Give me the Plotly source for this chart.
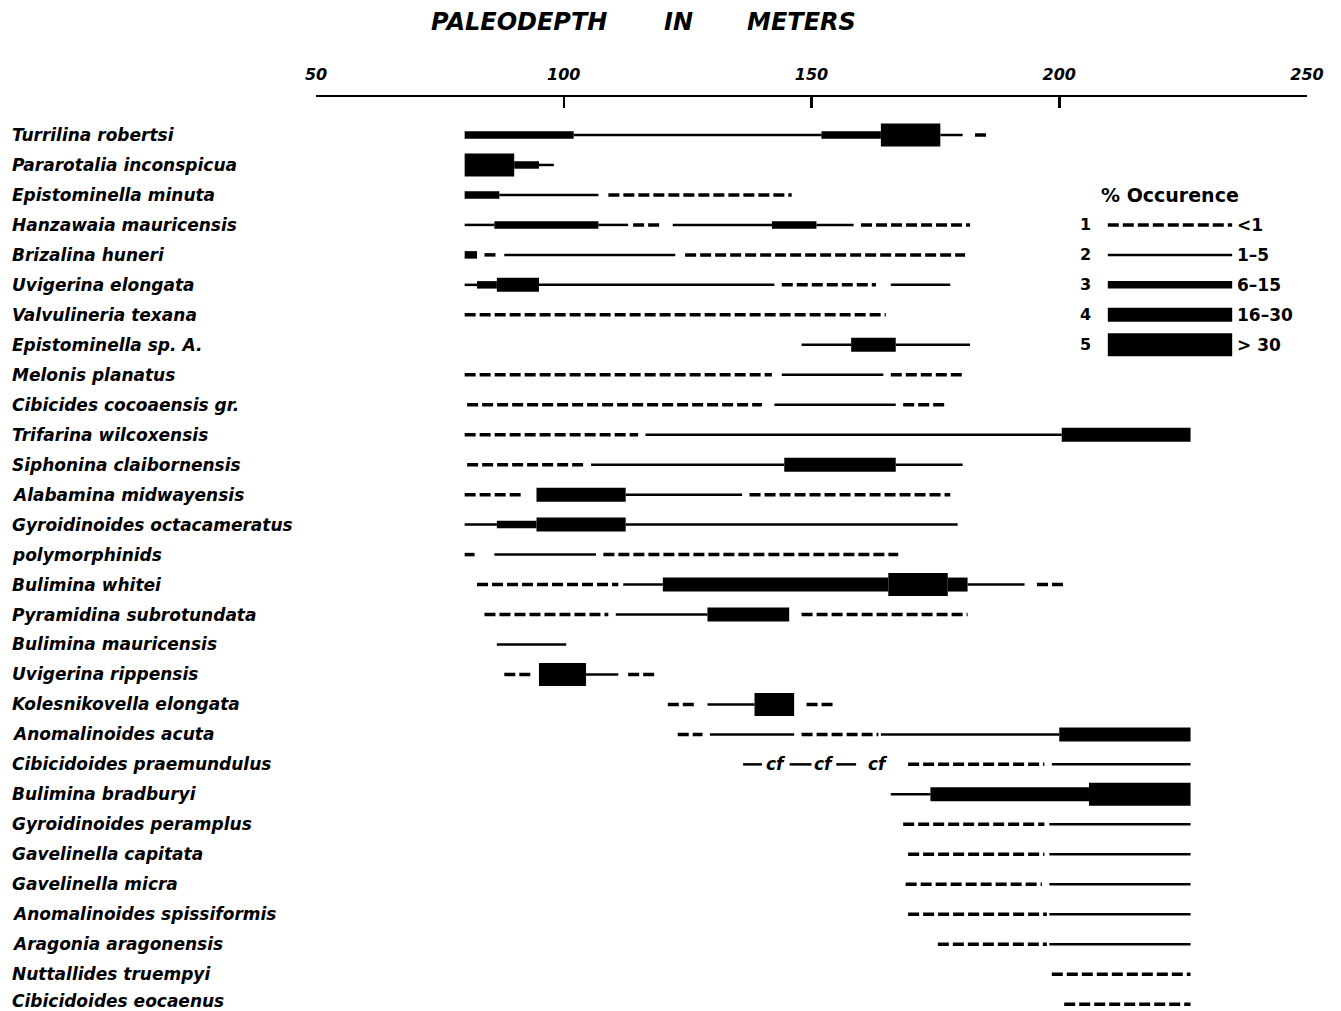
import plotly.graph_objects as go

# ---------------- data ----------------
species = [
    "Turrilina robertsi", "Pararotalia inconspicua", "Epistominella minuta",
    "Hanzawaia mauricensis", "Brizalina huneri", "Uvigerina elongata",
    "Valvulineria texana", "Epistominella sp. A.", "Melonis planatus",
    "Cibicides cocoaensis gr.", "Trifarina wilcoxensis", "Siphonina claibornensis",
    "Alabamina midwayensis", "Gyroidinoides octacameratus", "polymorphinids",
    "Bulimina whitei", "Pyramidina subrotundata", "Bulimina mauricensis",
    "Uvigerina rippensis", "Kolesnikovella elongata", "Anomalinoides acuta",
    "Cibicidoides praemundulus", "Bulimina bradburyi", "Gyroidinoides peramplus",
    "Gavelinella capitata", "Gavelinella micra", "Anomalinoides spissiformis",
    "Aragonia aragonensis", "Nuttallides truempyi", "Cibicidoides eocaenus",
]

# depth ranges (m) per species: start, end and occurrence class (1..5)
seg_start = [
    [80, 102, 152, 164, 176, 183],
    [80, 90, 95],
    [80, 87, 109],
    [80, 86, 107, 114, 122, 142, 151, 160],
    [80, 84, 88, 124.5],
    [80, 82.5, 86.5, 95, 144, 166],
    [80],
    [148, 158, 167],
    [80, 144, 166],
    [80.5, 142.5, 168.5],
    [80, 116.5, 200.5],
    [80.5, 105.5, 144.5, 167],
    [80, 94.5, 112.5, 137.5],
    [80, 86.5, 94.5, 112.5],
    [80, 86, 108],
    [82.5, 112, 120, 165.5, 177.5, 181.5, 195.5],
    [84, 110.5, 129, 148],
    [86.5],
    [88, 95, 104.5, 113],
    [121, 129, 138.5, 149],
    [123, 129.5, 148, 164, 200],
    [136.2, 145.6, 155, 169.5, 198.5],
    [166, 174, 206],
    [168.5, 198],
    [169.5, 198],
    [169, 198],
    [169.5, 198],
    [175.5, 198],
    [198.5],
    [201],
]
seg_end = [
    [102, 152, 164, 176, 180.5, 186],
    [90, 95, 98],
    [87, 107, 146],
    [86, 107, 113, 120, 142, 151, 158.5, 182],
    [82.5, 86.5, 122.5, 181],
    [82.5, 86.5, 95, 142.5, 163, 178],
    [165],
    [158, 167, 182],
    [142, 164.5, 181],
    [140, 167, 177],
    [115, 200.5, 226.5],
    [104.5, 144.5, 167, 180.5],
    [92, 112.5, 136, 178],
    [86.5, 94.5, 112.5, 179.5],
    [82, 106.5, 167.5],
    [111, 120, 165.5, 177.5, 181.5, 193, 201],
    [109, 129, 145.5, 181.5],
    [100.5],
    [93.5, 104.5, 111, 119],
    [127, 138.5, 146.5, 155],
    [128, 146.5, 163.5, 200, 226.5],
    [140, 150, 159, 197, 226.5],
    [174, 206, 226.5],
    [197, 226.5],
    [197, 226.5],
    [196.5, 226.5],
    [197.5, 226.5],
    [197.5, 226.5],
    [226.5],
    [226.5],
]
seg_level = [
    [3, 2, 3, 5, 2, 1],
    [5, 3, 2],
    [3, 2, 1],
    [2, 3, 2, 1, 2, 3, 2, 1],
    [3, 1, 2, 1],
    [2, 3, 4, 2, 1, 2],
    [1],
    [2, 4, 2],
    [1, 2, 1],
    [1, 2, 1],
    [1, 2, 4],
    [1, 2, 4, 2],
    [1, 4, 2, 1],
    [2, 3, 4, 2],
    [1, 2, 1],
    [1, 2, 4, 5, 4, 2, 1],
    [1, 2, 4, 1],
    [2],
    [1, 5, 2, 1],
    [1, 2, 5, 1],
    [1, 2, 1, 2, 4],
    [2, 2, 2, 1, 2],
    [2, 4, 5],
    [1, 2],
    [1, 2],
    [1, 2],
    [1, 2],
    [1, 2],
    [1],
    [1],
]

# "cf" markers on Cibicidoides praemundulus
cf_row = "Cibicidoides praemundulus"
cf_depths = [142.9, 152.6, 163.5]

# legend (% occurrence classes)
legend_title = "% Occurence"
legend_classes = [1, 2, 3, 4, 5]
legend_labels = ["<1", "1\u20135", "6\u201315", "16\u201330", "> 30"]
legend_rows = ["Hanzawaia mauricensis", "Brizalina huneri", "Uvigerina elongata",
               "Valvulineria texana", "Epistominella sp. A."]
legend_title_row = "Epistominella minuta"
legend_x = [209.8, 234.9]

axis_ticks = [50, 100, 150, 200, 250]
title_words = ["PALEODEPTH", "IN", "METERS"]

# ---------------- styles ----------------
widths = {1: 3.5, 2: 2.5, 3: 7.5, 4: 14, 5: 23}
dashes = {1: "11px,4px", 2: "solid", 3: "solid", 4: "solid", 5: "solid"}
FONT = "DejaVu Sans"

fig = go.Figure()
row_of = {s: i for i, s in enumerate(species)}

for lvl in [1, 2, 3, 4, 5]:
    xs, ys = [], []
    for i, sp in enumerate(species):
        for s, e, l in zip(seg_start[i], seg_end[i], seg_level[i]):
            if l == lvl:
                xs += [s, e, None]
                ys += [i, i, None]
    fig.add_trace(go.Scatter(
        x=xs, y=ys, mode="lines", connectgaps=False, hoverinfo="skip",
        line=dict(color="black", width=widths[lvl], dash=dashes[lvl]),
        showlegend=False))

# legend bars
for cls, lab, rw in zip(legend_classes, legend_labels, legend_rows):
    y = row_of[rw]
    fig.add_trace(go.Scatter(
        x=legend_x, y=[y, y], mode="lines", hoverinfo="skip", showlegend=False,
        line=dict(color="black", width=widths[cls], dash=dashes[cls])))
    fig.add_annotation(x=205.2, y=y, xref="x", yref="y", text=str(cls),
                       showarrow=False, xanchor="center", yanchor="middle",
                       font=dict(family=FONT, size=16, color="black", weight="bold"))
    fig.add_annotation(x=235.5, y=y, xref="x", yref="y", text=lab,
                       showarrow=False, xanchor="left", yanchor="middle",
                       font=dict(family=FONT, size=17, color="black", weight="bold"))
fig.add_annotation(x=222.4, y=row_of[legend_title_row], xref="x", yref="y",
                   text=legend_title, showarrow=False, xanchor="center", yanchor="middle",
                   font=dict(family=FONT, size=19, color="black", weight="bold"))

# cf labels
for d in cf_depths:
    fig.add_annotation(x=d, y=row_of[cf_row], xref="x", yref="y", text="cf",
                       showarrow=False, xanchor="center", yanchor="middle",
                       font=dict(family=FONT, size=17, color="black",
                                 weight="bold", style="italic"))

# species labels
L, R, T, B = 316, 34, 97, 0
W, H = 1341, 1011
pw = W - L - R
ph = H - T - B
for i, sp in enumerate(species):
    fig.add_annotation(x=(10 - L) / pw, y=i, xref="paper", yref="y", text=sp,
                       showarrow=False, xanchor="left", yanchor="middle",
                       yshift=3 if i == len(species) - 1 else 0,
                       font=dict(family=FONT, size=17, color="black",
                                 weight="bold", style="italic"))

# title words
for word, px in zip(title_words, [518.5, 678, 801]):
    fig.add_annotation(x=(px - L) / pw, y=(H - 22) / ph, xref="paper", yref="paper",
                       text=word, showarrow=False, xanchor="center", yanchor="middle",
                       font=dict(family=FONT, size=24, color="black",
                                 weight="bold", style="italic"))

row_px = 29.97
top_units = -(135 - T) / row_px
fig.update_layout(
    width=W, height=H,
    margin=dict(l=L, r=R, t=T, b=B, pad=0),
    paper_bgcolor="white", plot_bgcolor="white",
    xaxis=dict(range=[50, 250], side="top", tickvals=axis_ticks,
               ticktext=[str(t) for t in axis_ticks],
               ticks="inside", ticklen=11, tickwidth=2.5, tickcolor="black",
               showline=True, linewidth=2.5, linecolor="black",
               showgrid=False, zeroline=False, ticklabelstandoff=8,
               tickfont=dict(family=FONT, size=16, color="black",
                             weight="bold", style="italic")),
    yaxis=dict(range=[top_units + ph / row_px, top_units], visible=False,
               showgrid=False, zeroline=False),
)

fig.write_html(
    "out.html",
    config={"displayModeBar": False, "staticPlot": True},
    post_script="document.body.style.margin='0';document.body.style.overflow='hidden';",
)
